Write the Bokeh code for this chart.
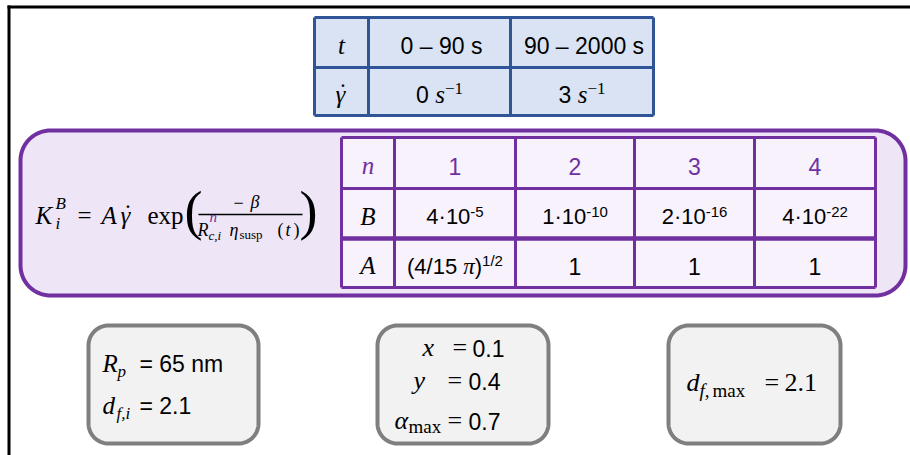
import numpy as np
from bokeh.plotting import figure
from bokeh.models import Range1d
from bokeh.core.properties import value
from bokeh.embed import file_html
from bokeh.resources import INLINE

# ---------------- data ----------------
time_ranges = ["0 – 90 s", "90 – 2000 s"]
shear_rates = ["0", "3"]                 # in s^-1
n_values = ["1", "2", "3", "4"]
B_mantissa = ["4", "1", "2", "4"]
B_exponent = ["-5", "-10", "-16", "-22"]
A_values = ["(4/15 π)^1/2", "1", "1", "1"]
R_p = "65 nm"
d_f_i = "2.1"
x_val = "0.1"
y_val = "0.4"
alpha_max = "0.7"
d_f_max = "2.1"

# ---------------- style ----------------
SANS = "Liberation Sans"
SERIF = "Liberation Serif"
BLUE_EDGE = "#2f5597"
BLUE_FILL = "#dae3f3"
PURPLE = "#7030a0"
LAV_BOX = "#eee5f6"
LAV_TABLE = "#f7f2fc"
GRAY_EDGE = "#7f7f7f"
GRAY_FILL = "#f2f2f2"
BLACK = "#000000"
BASE_FIX = 0.30   # baseline correction, in em

W, H = 910, 455
p = figure(width=W, height=H, output_backend="svg", toolbar_location=None,
           x_range=Range1d(0, W), y_range=Range1d(H, 0),
           min_border=0)
p.axis.visible = False
p.grid.visible = False
p.outline_line_color = None
p.background_fill_color = "white"
p.border_fill_color = "white"

SANS_W = {**{d: 0.556 for d in "0123456789"}, " ": 0.278, "–": 0.556, "-": 0.333,
          "·": 0.333, "s": 0.5, "(": 0.333, ")": 0.333, "/": 0.278, ".": 0.278,
          "=": 0.584, "n": 0.556, "m": 0.833}
SERIF_W = {"π": 0.5, "s": 0.389, "−": 0.564, "t": 0.278, " ": 0.25, "(": 0.333,
           ")": 0.333}


def seg_w(text, font, size):
    tab = SANS_W if font == SANS else SERIF_W
    return sum(tab.get(c, 0.5) for c in text) * size


def txt(x, y, s, font=SANS, style="normal", size=23, color=BLACK, align="left"):
    p.text(x=[x], y=[y - BASE_FIX * size], text=[s], text_font=value(font),
           text_font_style=style, text_font_size=f"{size}px", text_color=color,
           text_align=align, text_baseline="alphabetic")


def run(x, y, segs, center=True):
    """segs: list of (text, font, style, size, dy, color)"""
    ws = [seg_w(s[0], s[1], s[3]) for s in segs]
    if center:
        x -= sum(ws) / 2
    for s, w in zip(segs, ws):
        txt(x, y + s[4], s[0], font=s[1], style=s[2], size=s[3], color=s[5])
        x += w


def gamma_dot(x, y, size):
    """italic gamma with an over-dot, x = left edge"""
    txt(x, y, "γ", SERIF, "italic", size)
    txt(x + 0.30 * size, y - 0.08 * size, "˙", SERIF, "normal", size, align="center")


def rrect(x0, y0, x1, y1, r, n=20):
    xs, ys = [], []
    corners = [(x1 - r, y0 + r, -90, 0), (x1 - r, y1 - r, 0, 90),
               (x0 + r, y1 - r, 90, 180), (x0 + r, y0 + r, 180, 270)]
    for cx, cy, a0, a1 in corners:
        t = np.radians(np.linspace(a0, a1, n))
        xs.extend(cx + r * np.cos(t))
        ys.extend(cy + r * np.sin(t))
    return xs, ys


def grid_table(xe, ye, fill, edge, lw, heavy=None):
    p.quad(left=[xe[0]], right=[xe[-1]], top=[ye[0]], bottom=[ye[-1]],
           fill_color=fill, line_color=None)
    xs, ys = [], []
    for x in xe:
        xs.append([x, x]); ys.append([ye[0], ye[-1]])
    for y in ye:
        xs.append([xe[0], xe[-1]]); ys.append([y, y])
    p.multi_line(xs=xs, ys=ys, line_color=edge, line_width=lw)
    if heavy is not None:
        p.line(x=[xe[0], xe[-1]], y=[ye[heavy], ye[heavy]], line_color=edge, line_width=lw + 1.5)


# ---------------- frame ----------------
p.line(x=[7, W], y=[6.5, 6.5], line_color="black", line_width=3)
p.line(x=[8.5, 8.5], y=[5, H], line_color="black", line_width=3)

# ---------------- top table ----------------
tx = [314, 368, 510, 653]
ty = [17, 67, 115]
grid_table(tx, ty, BLUE_FILL, BLUE_EDGE, 3)
rc = [(ty[i] + ty[i + 1]) / 2 + 10 for i in range(2)]
cc = [(tx[i] + tx[i + 1]) / 2 for i in range(3)]
txt(cc[0], rc[0], "t", SERIF, "italic", 25, align="center")
gamma_dot(cc[0] - 6, rc[1], 25)
for k in range(2):
    txt(cc[k + 1] + 2, rc[0], time_ranges[k], SANS, "normal", 23, align="center")
    run(cc[k + 1], rc[1], [(shear_rates[k] + " ", SANS, "normal", 23, 0, BLACK),
                           ("s", SERIF, "italic", 25, 0, BLACK),
                           ("−1", SERIF, "normal", 17, -8, BLACK)])

# ---------------- purple box ----------------
bx, by = rrect(20, 130, 905, 295, 30)
p.patch(bx, by, fill_color=LAV_BOX, line_color=PURPLE, line_width=4)

ix = [341, 394, 515, 634, 754, 875]
iy = [137, 188, 238, 287]
grid_table(ix, iy, LAV_TABLE, PURPLE, 3, heavy=2)
irc = [(iy[i] + iy[i + 1]) / 2 + 10 for i in range(3)]
icc = [(ix[i] + ix[i + 1]) / 2 for i in range(5)]
txt(icc[0], irc[0], "n", SERIF, "italic", 25, PURPLE, "center")
txt(icc[0], irc[1], "B", SERIF, "italic", 25, BLACK, "center")
txt(icc[0], irc[2], "A", SERIF, "italic", 25, BLACK, "center")
for k in range(4):
    txt(icc[k + 1], irc[0], n_values[k], SANS, "normal", 23, PURPLE, "center")
    run(icc[k + 1], irc[1], [(B_mantissa[k] + "·10", SANS, "normal", 22, 0, BLACK),
                             (B_exponent[k], SANS, "normal", 15, -7, BLACK)])
    a = A_values[k]
    if "^" in a:
        base, sup = a.split("^")
        pre, post = base.split("π")
        run(icc[k + 1], irc[2], [(pre, SANS, "normal", 22, 0, BLACK),
                                 ("π", SERIF, "italic", 23, 0, BLACK),
                                 (post, SANS, "normal", 22, 0, BLACK),
                                 (sup, SANS, "normal", 15, -8, BLACK)])
    else:
        txt(icc[k + 1], irc[2], a, SANS, "normal", 23, BLACK, "center")

# ---------------- formula ----------------
fy = 222
txt(35, fy, "K", SERIF, "italic", 25)
txt(55, 208, "B", SERIF, "italic", 17)
txt(55, 228, "i", SERIF, "italic", 17)
txt(77, fy, "=", SERIF, "normal", 25)
txt(101, fy, "A", SERIF, "italic", 25)
gamma_dot(120, fy, 25)
txt(147, fy, "exp", SERIF, "normal", 25)
txt(184, 227, "(", SERIF, "normal", 54)
txt(233, 207, "−", SERIF, "normal", 18)
txt(250, 207, "β", SERIF, "italic", 18)
p.line(x=[198, 302], y=[214, 214], line_color="black", line_width=1.3)
txt(197, 235, "R", SERIF, "italic", 18)
txt(209, 221, "n", SERIF, "italic", 15, PURPLE)
txt(208, 239, "c,i", SERIF, "italic", 13)
txt(229, 235, "η", SERIF, "italic", 18)
txt(239, 238, "susp", SERIF, "normal", 13)
txt(277, 235, "(", SERIF, "normal", 18)
txt(285, 235, "t", SERIF, "italic", 18)
txt(293, 235, ")", SERIF, "normal", 18)
txt(299, 227, ")", SERIF, "normal", 54)

# ---------------- bottom boxes ----------------
for (x0, x1) in [(88, 258), (377, 548), (668, 840)]:
    gx, gy = rrect(x0, 325, x1, 443, 20)
    p.patch(gx, gy, fill_color=GRAY_FILL, line_color=GRAY_EDGE, line_width=4)

# box 1
txt(102, 370, "R", SERIF, "italic", 25)
txt(117, 376, "p", SERIF, "italic", 17)
txt(139, 370, "= " + R_p, SANS, "normal", 23)
txt(102, 412, "d", SERIF, "italic", 25)
txt(116, 418, "f,i", SERIF, "italic", 17)
txt(139, 412, "= " + d_f_i, SANS, "normal", 23)

# box 2
txt(422, 355, "x", SERIF, "italic", 26)
txt(452, 355, "=", SERIF, "normal", 26)
txt(472, 355, x_val, SANS, "normal", 23)
txt(413, 388, "y", SERIF, "italic", 26)
txt(447, 388, "=", SERIF, "normal", 26)
txt(468, 388, y_val, SANS, "normal", 23)
txt(394, 428, "α", SERIF, "italic", 26)
txt(408, 432, "max", SERIF, "normal", 19)
txt(447, 428, "=", SERIF, "normal", 26)
txt(468, 428, alpha_max, SANS, "normal", 23)

# box 3
txt(686, 390, "d", SERIF, "italic", 26)
txt(699, 396, "f,", SERIF, "italic", 19)
txt(712, 396, "max", SERIF, "normal", 19)
txt(764, 390, "=", SERIF, "normal", 26)
txt(784, 390, d_f_max, SERIF, "normal", 26)

open("out.html", "w").write(file_html(p, INLINE))
